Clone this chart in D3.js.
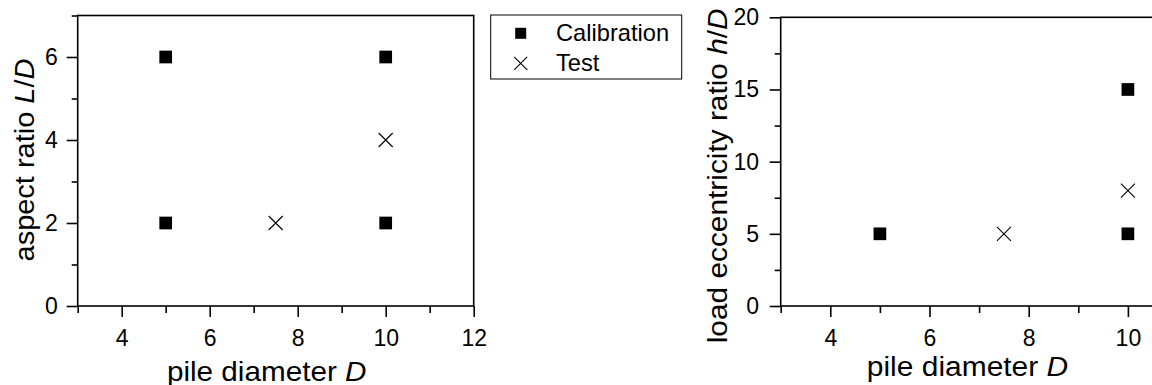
<!DOCTYPE html>
<html>
<head>
<meta charset="utf-8">
<script src="https://cdn.jsdelivr.net/npm/d3@7"></script>
<style>
  html, body { margin: 0; padding: 0; background: #fff; }
  svg { display: block; }
  text { font-family: "Liberation Sans", Arial, Helvetica, sans-serif; fill: #000; }
</style>
</head>
<body>
<svg id="chart" width="1152" height="385"></svg>
<script>
// Left panel: aspect ratio L/D against pile diameter D
const leftCalibD  = [5, 5, 10, 10];
const leftCalibLD = [2, 6, 2, 6];
const leftTestD   = [7.5, 10];
const leftTestLD  = [2, 4];
const leftXTicks  = [4, 6, 8, 10, 12];
const leftXMinor  = [3, 5, 7, 9, 11];
const leftYTicks  = [0, 2, 4, 6];
const leftYMinor  = [1, 3, 5, 7];

// Right panel: load eccentricity ratio h/D against pile diameter D
const rightCalibD  = [5, 10, 10];
const rightCalibHD = [5, 5, 15];
const rightTestD   = [7.5, 10];
const rightTestHD  = [5, 8];
const rightXTicks  = [4, 6, 8, 10];
const rightXMinor  = [3, 5, 7, 9];
const rightYTicks  = [0, 5, 10, 15, 20];
const rightYMinor  = [2.5, 7.5, 12.5, 17.5];

const legendLabels = ["Calibration", "Test"];

const svg = d3.select("#chart");
const TICK_FONT = 23;
const TITLE_FONT = 28;

function crossPath(cx, cy, h) {
  return `M${cx - h},${cy - h}L${cx + h},${cy + h}M${cx - h},${cy + h}L${cx + h},${cy - h}`;
}

function panel(opts) {
  const g = svg.append("g");
  const x = d3.scaleLinear().domain(opts.xDomain).range(opts.xRange);
  const y = d3.scaleLinear().domain(opts.yDomain).range(opts.yRange);

  // frame
  g.append("rect")
    .attr("x", x(opts.xDomain[0])).attr("y", y(opts.yDomain[1]))
    .attr("width", x(opts.xDomain[1]) - x(opts.xDomain[0]))
    .attr("height", y(opts.yDomain[0]) - y(opts.yDomain[1]))
    .attr("fill", "none").attr("stroke", "#000").attr("stroke-width", 1.6);

  const styleAxis = sel => {
    sel.select(".domain").remove();
    sel.selectAll(".tick line").attr("stroke", "#000").attr("stroke-width", 1.6);
    sel.selectAll(".tick text").style("font-size", TICK_FONT + "px")
      .style("font-family", "'Liberation Sans', Arial, sans-serif");
  };

  // bottom axis: major and minor ticks
  g.append("g").attr("transform", `translate(0,${y(opts.yDomain[0])})`)
    .call(d3.axisBottom(x).tickValues(opts.xTicks).tickSize(11).tickPadding(13).tickFormat(d3.format("d")))
    .call(styleAxis);
  g.append("g").attr("transform", `translate(0,${y(opts.yDomain[0])})`)
    .call(d3.axisBottom(x).tickValues(opts.xMinor).tickSize(7).tickFormat(""))
    .call(styleAxis);

  // left axis: major and minor ticks
  g.append("g").attr("transform", `translate(${x(opts.xDomain[0])},0)`)
    .call(d3.axisLeft(y).tickValues(opts.yTicks).tickSize(11).tickPadding(opts.yPad).tickFormat(d3.format("d")))
    .call(styleAxis);
  g.append("g").attr("transform", `translate(${x(opts.xDomain[0])},0)`)
    .call(d3.axisLeft(y).tickValues(opts.yMinor).tickSize(6).tickFormat(""))
    .call(styleAxis);

  // calibration points: filled squares
  const s = 12.7;
  g.selectAll("rect.calib").data(d3.zip(opts.calibX, opts.calibY)).join("rect")
    .attr("class", "calib")
    .attr("x", d => x(d[0]) - s / 2).attr("y", d => y(d[1]) - s / 2)
    .attr("width", s).attr("height", s).attr("fill", "#000");

  // test points: crosses
  g.selectAll("path.test").data(d3.zip(opts.testX, opts.testY)).join("path")
    .attr("class", "test")
    .attr("d", d => crossPath(x(d[0]), y(d[1]), 7))
    .attr("stroke", "#000").attr("stroke-width", 1.1).attr("fill", "none");

  // x title
  const xt = g.append("text")
    .attr("transform", `translate(${opts.xTitlePos[0]},${opts.xTitlePos[1]}) scale(${opts.xTitleStretch},1)`)
    .attr("text-anchor", "middle").style("font-size", TITLE_FONT + "px");
  xt.append("tspan").text("pile diameter ");
  xt.append("tspan").style("font-style", "italic").text("D");

  // y title
  const yt = g.append("text")
    .attr("transform", `translate(${opts.yTitlePos[0]},${opts.yTitlePos[1]}) rotate(-90) scale(${opts.yTitleStretch},1)`)
    .attr("text-anchor", "middle").style("font-size", TITLE_FONT + "px");
  yt.append("tspan").text(opts.yTitle);
  yt.append("tspan").style("font-style", "italic").text(opts.yTitleVar);
  yt.append("tspan").text("/");
  yt.append("tspan").style("font-style", "italic").text("D");
}

panel({
  xDomain: [3, 12], xRange: [77.7, 473.7],
  yDomain: [0, 7], yRange: [306, 15.5],
  xTicks: leftXTicks, xMinor: leftXMinor, yTicks: leftYTicks, yMinor: leftYMinor,
  yPad: 9,
  calibX: leftCalibD, calibY: leftCalibLD, testX: leftTestD, testY: leftTestLD,
  xTitlePos: [266.7, 380.5], xTitleStretch: 1.06,
  yTitlePos: [33.5, 160], yTitleStretch: 1.035,
  yTitle: "aspect ratio ", yTitleVar: "L"
});

panel({
  xDomain: [3, 12], xRange: [780.7, 1227.1],
  yDomain: [0, 20], yRange: [306, 17.3],
  xTicks: rightXTicks, xMinor: rightXMinor, yTicks: rightYTicks, yMinor: rightYMinor,
  yPad: 10.7,
  calibX: rightCalibD, calibY: rightCalibHD, testX: rightTestD, testY: rightTestHD,
  xTitlePos: [967.5, 375.5], xTitleStretch: 1.07,
  yTitlePos: [726.5, 175.8], yTitleStretch: 1.066,
  yTitle: "load eccentricity ratio ", yTitleVar: "h"
});

// legend
const lg = svg.append("g");
lg.append("rect").attr("x", 490.7).attr("y", 15).attr("width", 191).attr("height", 64)
  .attr("fill", "#fff").attr("stroke", "#000").attr("stroke-width", 1);
const rowY = d3.scalePoint().domain(legendLabels).range([33.3, 63.3]);
lg.append("rect").attr("x", 520.7 - 5.5).attr("y", rowY("Calibration") - 5.5)
  .attr("width", 11).attr("height", 11).attr("fill", "#000");
lg.append("path").attr("d", crossPath(520.7, rowY("Test"), 6.5))
  .attr("stroke", "#000").attr("stroke-width", 1.1).attr("fill", "none");
lg.selectAll("text").data(legendLabels).join("text")
  .attr("transform", d => `translate(556,${rowY(d) + 7.8}) scale(1.03,1)`)
  .style("font-size", "23px").text(d => d);
</script>
</body>
</html>
